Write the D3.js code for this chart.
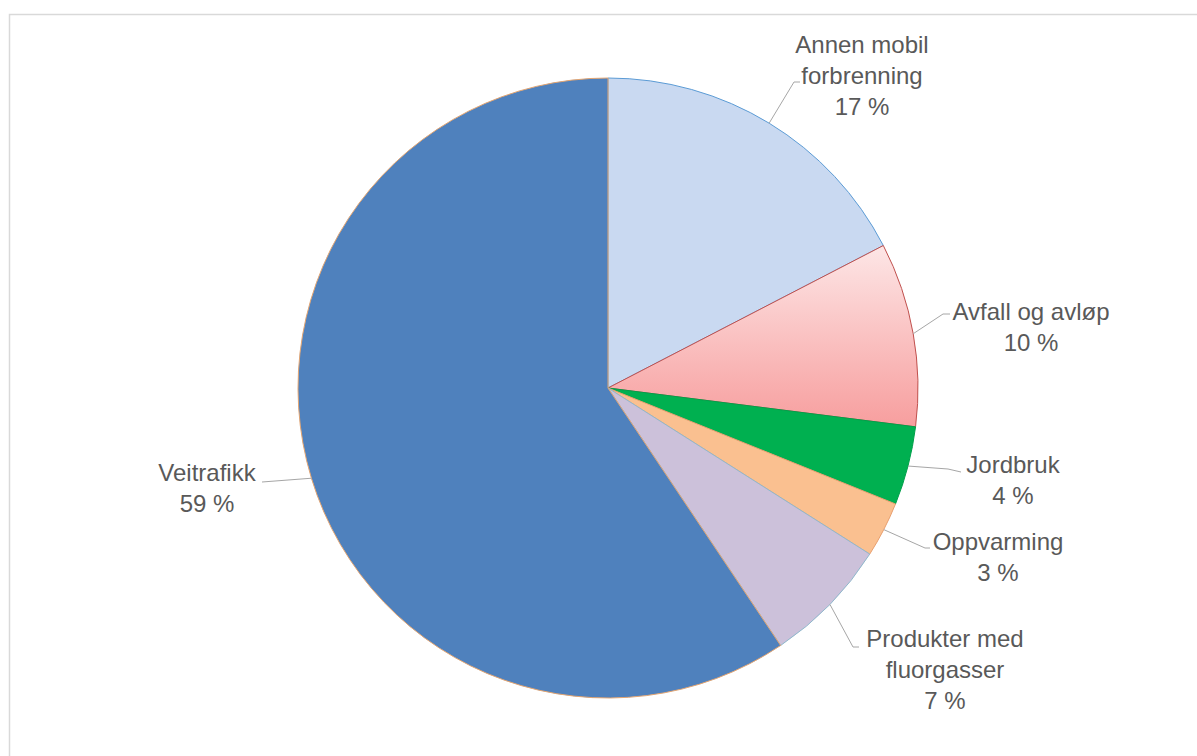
<!DOCTYPE html>
<html>
<head>
<meta charset="utf-8">
<script src="https://cdn.jsdelivr.net/npm/d3@7"></script>
<style>
  body { margin: 0; background: #fff; }
  svg text { font-family: "Liberation Sans", Arial, sans-serif; fill: #595959; }
</style>
</head>
<body>
<div id="chart"></div>
<script>
// shares (labels show rounded values)
const categories = ["Annen mobil forbrenning", "Avfall og avløp", "Jordbruk", "Oppvarming", "Produkter med fluorgasser", "Veitrafikk"];
const shares = [17.4, 9.6, 4.1, 2.9, 6.6, 59.4];
const labelLines = [["Annen mobil", "forbrenning"], ["Avfall og avløp"], ["Jordbruk"], ["Oppvarming"], ["Produkter med", "fluorgasser"], ["Veitrafikk"]];
const percentLabels = ["17 %", "10 %", "4 %", "3 %", "7 %", "59 %"];

const fills = ["#C9D9F1", "url(#pinkGrad)", "#00B050", "#FAC090", "#CCC1DA", "#4F81BD"];
const strokes = ["#5B9BD5", "#C0504D", "#00A04A", "#E8A070", "#8FB8CC", "#E3A572"];

// label placement (layout): block centre x, first line y, leader elbow, leader end
const labelLayout = [
    { x: 862, y: 45, elbow: [794, 82], end: [800, 82] },
    { x: 1031, y: 312, elbow: [943, 314], end: [950, 314] },
    { x: 1013, y: 465, elbow: [948, 469], end: [961, 472] },
    { x: 998, y: 542, elbow: [925, 548], end: [930, 548] },
    { x: 945, y: 639, elbow: [853, 647], end: [859, 647] },
    { x: 207, y: 473, elbow: [262, 482], end: [262, 482] }
];

const width = 1197, height = 756;
const cx = 608, cy = 388, radius = 310;
const lineH = 31;

const svg = d3.select("#chart").append("svg")
    .attr("width", width)
    .attr("height", height);

let defs = svg.append("defs");
let grad = defs.append("linearGradient")
    .attr("id", "pinkGrad")
    .attr("x1", 0).attr("y1", 0).attr("x2", 0).attr("y2", 1);
grad.append("stop").attr("offset", "0%").attr("stop-color", "#FDE6E6");
grad.append("stop").attr("offset", "100%").attr("stop-color", "#F79E9E");

// chart frame
svg.append("rect")
    .attr("x", 9.5).attr("y", 14.5)
    .attr("width", 1200).attr("height", 760)
    .attr("fill", "none")
    .attr("stroke", "#D9D9D9")
    .attr("stroke-width", 1.5);

const data = categories.map((c, i) => ({ name: c, value: shares[i], i: i }));

const pie = d3.pie()
    .value(d => d.value)
    .sort(null);

const arc = d3.arc()
    .innerRadius(0)
    .outerRadius(radius);

const arcs = pie(data);

const g = svg.append("g").attr("transform", `translate(${cx},${cy})`);

g.selectAll("path.slice")
    .data(arcs)
    .enter()
    .append("path")
    .attr("class", "slice")
    .attr("d", arc)
    .attr("fill", d => fills[d.data.i])
    .attr("stroke", d => strokes[d.data.i])
    .attr("stroke-width", 1);

// leader lines start on the rim at each slice's mid angle
const leaders = svg.append("g");
arcs.forEach(d => {
    const lay = labelLayout[d.data.i];
    const mid = (d.startAngle + d.endAngle) / 2;
    const px = cx + radius * Math.sin(mid);
    const py = cy - radius * Math.cos(mid);
    leaders.append("polyline")
        .attr("points", [[px, py], lay.elbow, lay.end].map(p => p.join(",")).join(" "))
        .attr("fill", "none")
        .attr("stroke", "#A6A6A6")
        .attr("stroke-width", 1);
});

const labels = svg.append("g");
arcs.forEach(d => {
    const i = d.data.i;
    const lay = labelLayout[i];
    const lines = labelLines[i].concat([percentLabels[i]]);
    const t = labels.append("text")
        .attr("text-anchor", "middle")
        .attr("font-size", 24);
    lines.forEach((ln, k) => {
        t.append("tspan")
            .attr("x", lay.x)
            .attr("y", lay.y + k * lineH)
            .attr("dy", "0.35em")
            .text(ln);
    });
});
</script>
</body>
</html>
